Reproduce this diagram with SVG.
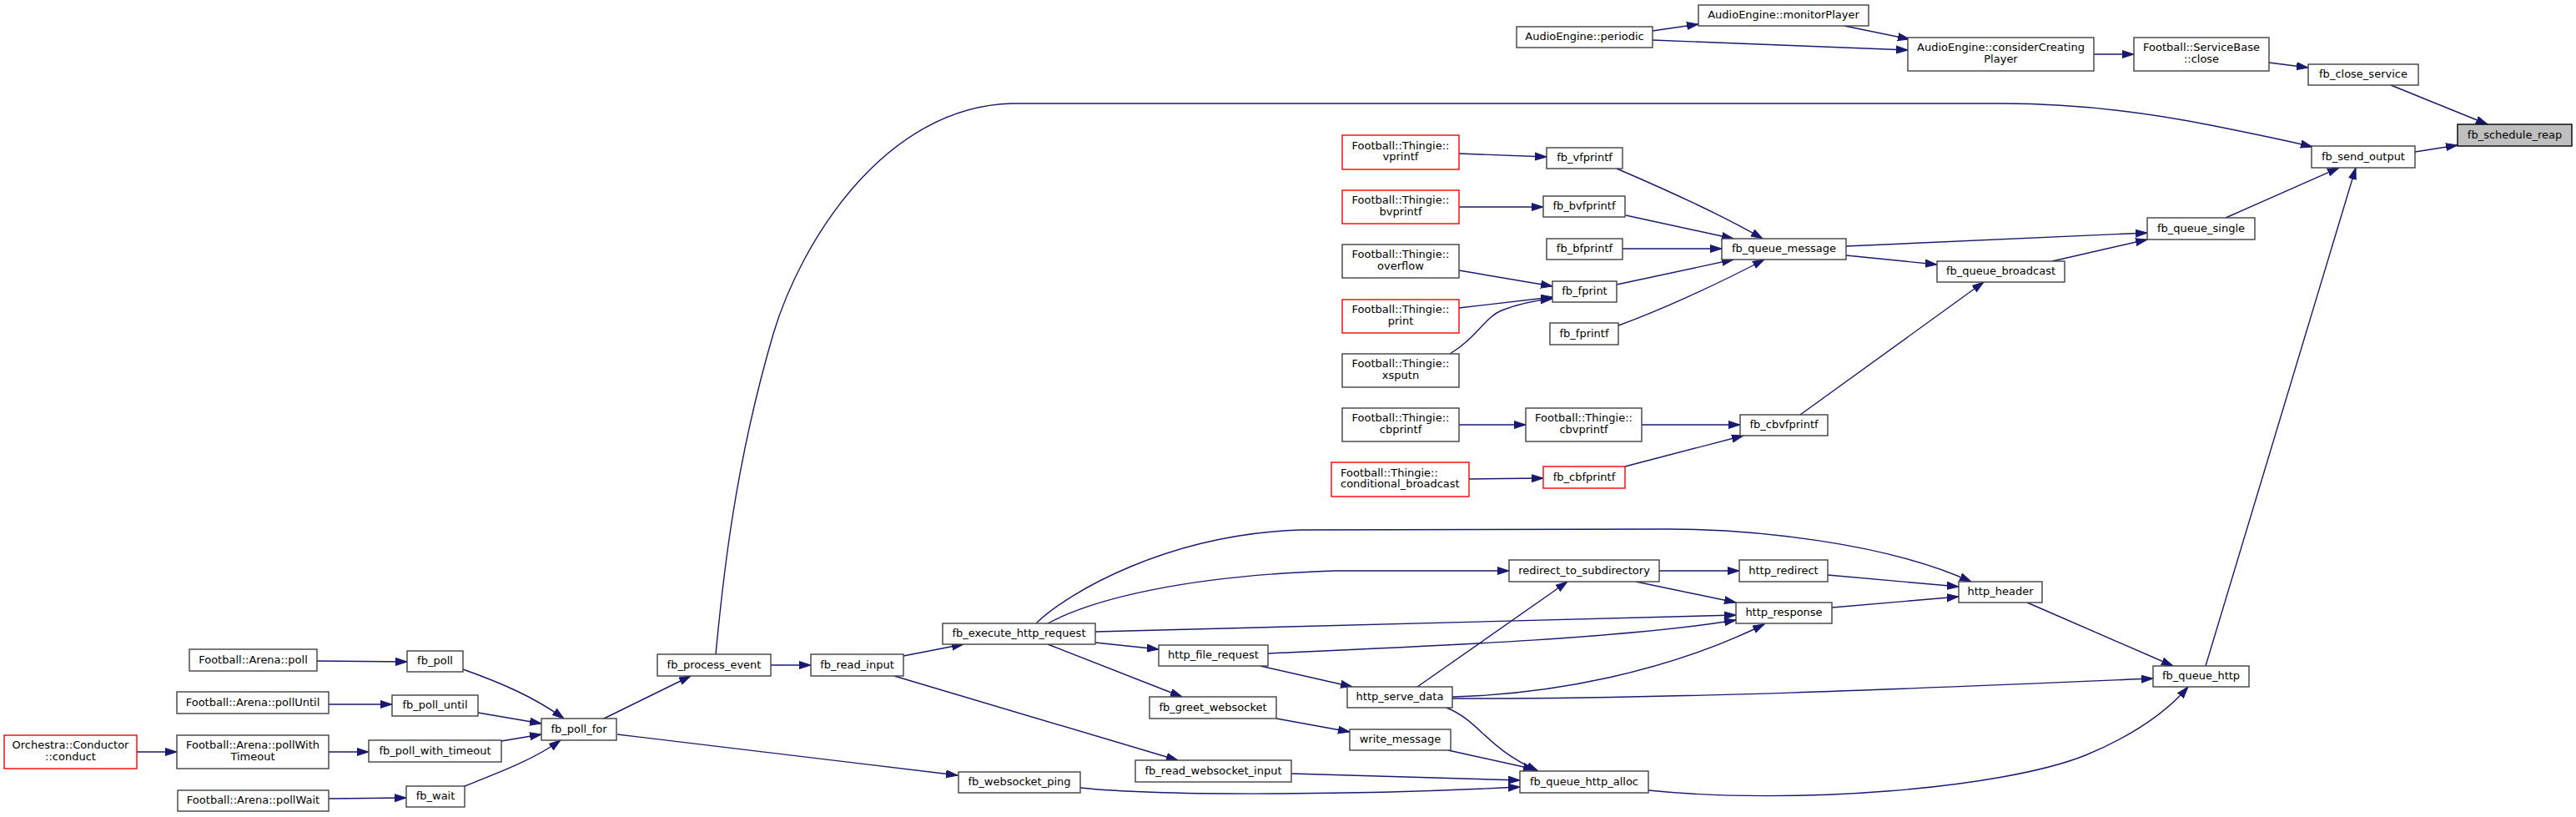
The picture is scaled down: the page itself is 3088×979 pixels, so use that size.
<svg xmlns="http://www.w3.org/2000/svg" width="3088" height="979" viewBox="0 0 3088 979">
<style>
.n rect{fill:#fff;stroke:#404040;stroke-width:1.4}
.n.r rect{stroke:#ff0000}
.n.root rect{fill:#bfbfbf;stroke:#000}
.n text{font-family:"DejaVu Sans","Liberation Sans",sans-serif;font-size:13px;fill:#000;text-anchor:middle}
.n text.l{text-anchor:start}
#edges path{fill:none;stroke:#191970;stroke-width:1.4;marker-end:url(#a)}
</style>
<defs>
<marker id="a" markerUnits="userSpaceOnUse" markerWidth="15" markerHeight="11" refX="14" refY="5" orient="auto">
<path d="M0,0.5 L14,5 L0,9.5 z" fill="#191970" stroke="#191970" stroke-width="1"/>
</marker>
</defs>
<rect width="3088" height="979" fill="#fff"/>
<g id="edges">
<path d="M1981,37 L2036,29"/>
<path d="M1981,48 L2287,60"/>
<path d="M2211,31 L2289,47"/>
<path d="M2510,65 L2558,65"/>
<path d="M2720,75 L2767,81"/>
<path d="M2866,102 L2982,149"/>
<path d="M2895,182 L2946,174"/>
<path d="M2668,261 L2804,201"/>
<path d="M2644,798 L2824,201"/>
<path d="M858,784 C866,700 880,560 927,400 C960,290 1060,128 1213,124 L2400,124 C2480,124 2560,132 2650,150 C2700,160 2740,168 2772,176"/>
<path d="M2213,295 L2574,279"/>
<path d="M2213,306 L2322,317"/>
<path d="M2460,313 L2574,287"/>
<path d="M2158,497 L2378,338"/>
<path d="M1938,202 C1980,220 2060,255 2113,286"/>
<path d="M1949,258 L2078,286"/>
<path d="M1945,298 L2064,298"/>
<path d="M1938,341 L2078,311"/>
<path d="M1940,390 C1990,372 2060,340 2115,311"/>
<path d="M1749,184 L1854,188"/>
<path d="M1749,248 L1850,248"/>
<path d="M1749,324 L1861,343"/>
<path d="M1749,369 L1861,356"/>
<path d="M1738,424 C1770,405 1780,380 1800,372 C1820,364 1840,360 1861,358"/>
<path d="M1748,509 L1829,509"/>
<path d="M1968,509 L2086,509"/>
<path d="M1761,574 L1850,573"/>
<path d="M1948,559 L2090,522"/>
<path d="M1242,747 C1280,710 1400,640 1560,635 L2000,634 C2100,634 2260,650 2363,697"/>
<path d="M1256,747 C1310,718 1420,690 1600,684 L1809,684"/>
<path d="M1313,757 L2081,737"/>
<path d="M1313,770 L1389,778"/>
<path d="M1256,772 L1417,835"/>
<path d="M1520,783 C1700,775 1950,765 2081,743"/>
<path d="M1511,798 L1621,823"/>
<path d="M1699,823 L1879,697"/>
<path d="M1741,835 C1860,832 2000,805 2115,748"/>
<path d="M1734,848 C1775,865 1780,895 1844,924"/>
<path d="M1989,684 L2085,684"/>
<path d="M1961,697 L2081,722"/>
<path d="M2191,689 L2348,703"/>
<path d="M2196,728 L2348,715"/>
<path d="M2430,722 L2605,798"/>
<path d="M1741,837 C2000,838 2300,825 2581,813"/>
<path d="M1976,947 C2150,965 2400,945 2500,905 C2560,880 2600,850 2623,823"/>
<path d="M1736,899 L1840,922"/>
<path d="M1548,927 L1822,935"/>
<path d="M1295,944 C1400,955 1650,952 1822,943"/>
<path d="M1530,861 L1618,877"/>
<path d="M1083,786 L1155,772"/>
<path d="M1072,810 L1412,911"/>
<path d="M924,797 L972,797"/>
<path d="M722,862 L828,810"/>
<path d="M740,880 L1148,929"/>
<path d="M380,792 L488,793"/>
<path d="M394,844 L470,844"/>
<path d="M164,901 L212,901"/>
<path d="M394,901 L442,901"/>
<path d="M394,957 L487,956"/>
<path d="M555,802 C600,818 640,835 676,861"/>
<path d="M573,854 L649,867"/>
<path d="M601,888 L649,880"/>
<path d="M557,942 C600,925 640,910 672,887"/>
</g>
<g id="n_periodic" class="n"><rect x="1818" y="32" width="163" height="25"/><text x="1899.5" y="48">AudioEngine::periodic</text></g>
<g id="n_monitorPlayer" class="n"><rect x="2036" y="6" width="204" height="25"/><text x="2138" y="22">AudioEngine::monitorPlayer</text></g>
<g id="n_considerCreatingPlayer" class="n"><rect x="2287" y="45" width="223" height="40"/><text x="2398.5" y="61">AudioEngine::considerCreating</text><text x="2398.5" y="74.5">Player</text></g>
<g id="n_serviceBaseClose" class="n"><rect x="2558" y="45" width="162" height="40"/><text x="2639" y="61">Football::ServiceBase</text><text x="2639" y="74.5">::close</text></g>
<g id="n_fb_close_service" class="n"><rect x="2767" y="77" width="132" height="25"/><text x="2833" y="93">fb_close_service</text></g>
<g id="n_fb_schedule_reap" class="n root"><rect x="2946" y="149" width="137" height="26"/><text x="3014.5" y="165.5">fb_schedule_reap</text></g>
<g id="n_fb_send_output" class="n"><rect x="2771" y="175" width="124" height="26"/><text x="2833" y="191.5">fb_send_output</text></g>
<g id="n_fb_queue_single" class="n"><rect x="2574" y="261" width="129" height="26"/><text x="2638.5" y="277.5">fb_queue_single</text></g>
<g id="n_fb_queue_broadcast" class="n"><rect x="2322" y="313" width="153" height="25"/><text x="2398.5" y="329">fb_queue_broadcast</text></g>
<g id="n_fb_queue_message" class="n"><rect x="2064" y="286" width="149" height="25"/><text x="2138.5" y="302">fb_queue_message</text></g>
<g id="n_vprintf" class="n r"><rect x="1609" y="162" width="140" height="41"/><text x="1679" y="178.5">Football::Thingie::</text><text x="1679" y="192">vprintf</text></g>
<g id="n_fb_vfprintf" class="n"><rect x="1854" y="177" width="91" height="25"/><text x="1899.5" y="193">fb_vfprintf</text></g>
<g id="n_bvprintf" class="n r"><rect x="1609" y="228" width="140" height="40"/><text x="1679" y="244">Football::Thingie::</text><text x="1679" y="257.5">bvprintf</text></g>
<g id="n_fb_bvfprintf" class="n"><rect x="1850" y="235" width="98" height="25"/><text x="1899" y="251">fb_bvfprintf</text></g>
<g id="n_fb_bfprintf" class="n"><rect x="1854" y="286" width="91" height="25"/><text x="1899.5" y="302">fb_bfprintf</text></g>
<g id="n_overflow" class="n"><rect x="1609" y="293" width="140" height="40"/><text x="1679" y="309">Football::Thingie::</text><text x="1679" y="322.5">overflow</text></g>
<g id="n_fb_fprint" class="n"><rect x="1861" y="337" width="77" height="25"/><text x="1899.5" y="353">fb_fprint</text></g>
<g id="n_print" class="n r"><rect x="1609" y="359" width="140" height="40"/><text x="1679" y="375">Football::Thingie::</text><text x="1679" y="388.5">print</text></g>
<g id="n_fb_fprintf" class="n"><rect x="1858" y="387" width="82" height="26"/><text x="1899" y="403.5">fb_fprintf</text></g>
<g id="n_xsputn" class="n"><rect x="1609" y="424" width="140" height="40"/><text x="1679" y="440">Football::Thingie::</text><text x="1679" y="453.5">xsputn</text></g>
<g id="n_cbprintf" class="n"><rect x="1609" y="489" width="140" height="40"/><text x="1679" y="505">Football::Thingie::</text><text x="1679" y="518.5">cbprintf</text></g>
<g id="n_cbvprintf" class="n"><rect x="1829" y="489" width="139" height="40"/><text x="1898.5" y="505">Football::Thingie::</text><text x="1898.5" y="518.5">cbvprintf</text></g>
<g id="n_fb_cbvfprintf" class="n"><rect x="2086" y="497" width="105" height="25"/><text x="2138.5" y="513">fb_cbvfprintf</text></g>
<g id="n_conditional_broadcast" class="n r"><rect x="1596" y="554" width="165" height="41"/><text class="l" x="1607" y="570.5">Football::Thingie::</text><text class="l" x="1607" y="584">conditional_broadcast</text></g>
<g id="n_fb_cbfprintf" class="n r"><rect x="1850" y="559" width="98" height="26"/><text x="1899" y="575.5">fb_cbfprintf</text></g>
<g id="n_fb_execute_http_request" class="n"><rect x="1130" y="747" width="183" height="25"/><text x="1221.5" y="763">fb_execute_http_request</text></g>
<g id="n_http_file_request" class="n"><rect x="1389" y="773" width="131" height="25"/><text x="1454.5" y="789">http_file_request</text></g>
<g id="n_fb_greet_websocket" class="n"><rect x="1378" y="835" width="152" height="26"/><text x="1454" y="851.5">fb_greet_websocket</text></g>
<g id="n_http_serve_data" class="n"><rect x="1615" y="823" width="126" height="25"/><text x="1678" y="839">http_serve_data</text></g>
<g id="n_write_message" class="n"><rect x="1618" y="874" width="121" height="25"/><text x="1678.5" y="890">write_message</text></g>
<g id="n_fb_read_websocket_input" class="n"><rect x="1361" y="911" width="187" height="26"/><text x="1454.5" y="927.5">fb_read_websocket_input</text></g>
<g id="n_fb_websocket_ping" class="n"><rect x="1149" y="925" width="146" height="25"/><text x="1222" y="941">fb_websocket_ping</text></g>
<g id="n_redirect_to_subdirectory" class="n"><rect x="1809" y="671" width="180" height="26"/><text x="1899" y="687.5">redirect_to_subdirectory</text></g>
<g id="n_http_redirect" class="n"><rect x="2085" y="671" width="106" height="26"/><text x="2138" y="687.5">http_redirect</text></g>
<g id="n_http_header" class="n"><rect x="2348" y="697" width="100" height="25"/><text x="2398" y="713">http_header</text></g>
<g id="n_http_response" class="n"><rect x="2081" y="722" width="115" height="25"/><text x="2138.5" y="738">http_response</text></g>
<g id="n_fb_queue_http_alloc" class="n"><rect x="1822" y="924" width="154" height="26"/><text x="1899" y="940.5">fb_queue_http_alloc</text></g>
<g id="n_fb_queue_http" class="n"><rect x="2581" y="798" width="115" height="25"/><text x="2638.5" y="814">fb_queue_http</text></g>
<g id="n_arena_poll" class="n"><rect x="227" y="778" width="153" height="26"/><text x="303.5" y="794.5">Football::Arena::poll</text></g>
<g id="n_fb_poll" class="n"><rect x="488" y="780" width="67" height="25"/><text x="521.5" y="796">fb_poll</text></g>
<g id="n_arena_pollUntil" class="n"><rect x="212" y="829" width="182" height="26"/><text x="303" y="845.5">Football::Arena::pollUntil</text></g>
<g id="n_fb_poll_until" class="n"><rect x="470" y="833" width="103" height="25"/><text x="521.5" y="849">fb_poll_until</text></g>
<g id="n_fb_poll_for" class="n"><rect x="649" y="861" width="90" height="26"/><text x="694" y="877.5">fb_poll_for</text></g>
<g id="n_conduct" class="n r"><rect x="5" y="881" width="159" height="40"/><text x="84.5" y="897">Orchestra::Conductor</text><text x="84.5" y="910.5">::conduct</text></g>
<g id="n_arena_pollWithTimeout" class="n"><rect x="212" y="881" width="182" height="40"/><text x="303" y="897">Football::Arena::pollWith</text><text x="303" y="910.5">Timeout</text></g>
<g id="n_fb_poll_with_timeout" class="n"><rect x="442" y="887" width="159" height="26"/><text x="521.5" y="903.5">fb_poll_with_timeout</text></g>
<g id="n_arena_pollWait" class="n"><rect x="213" y="947" width="181" height="25"/><text x="303.5" y="963">Football::Arena::pollWait</text></g>
<g id="n_fb_wait" class="n"><rect x="487" y="942" width="70" height="25"/><text x="522" y="958">fb_wait</text></g>
<g id="n_fb_process_event" class="n"><rect x="788" y="784" width="136" height="26"/><text x="856" y="800.5">fb_process_event</text></g>
<g id="n_fb_read_input" class="n"><rect x="972" y="784" width="111" height="26"/><text x="1027.5" y="800.5">fb_read_input</text></g>
</svg>
